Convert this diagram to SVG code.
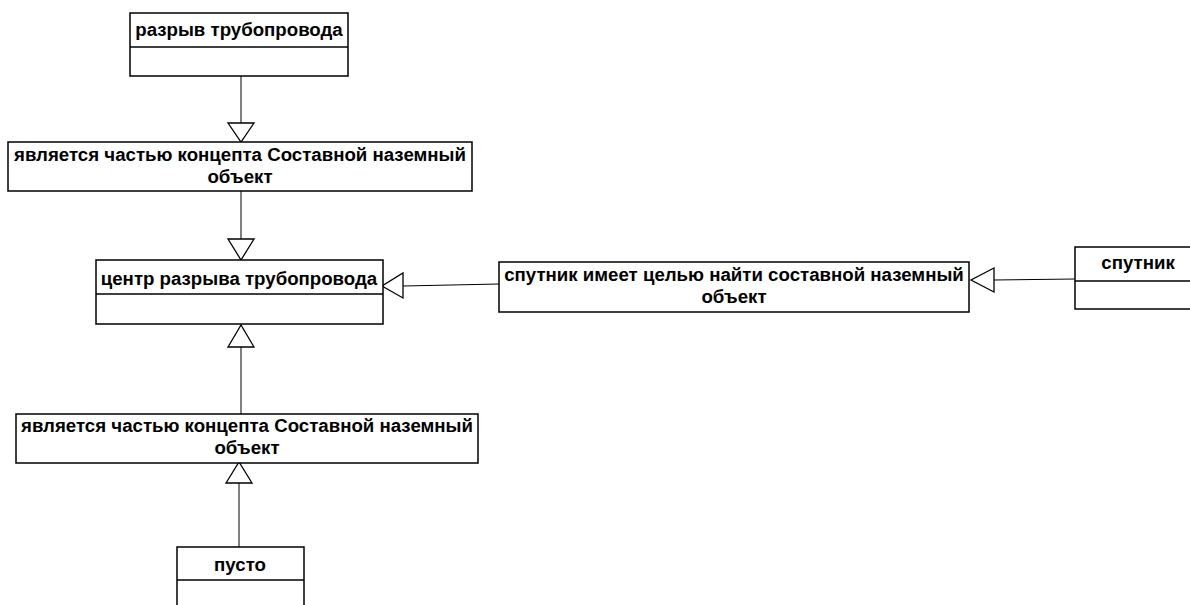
<svg xmlns="http://www.w3.org/2000/svg" width="1190" height="605" viewBox="0 0 1190 605">
<style>
.box{fill:#fff;stroke:#000;stroke-width:1.5}
.div{stroke:#000;stroke-width:1.5}
.t{font-family:"Liberation Sans",Arial,sans-serif;font-weight:bold;font-size:18.67px;fill:#000;text-anchor:middle}
.c{stroke:#000;stroke-width:1;fill:none}
.tri{fill:#fff;stroke:#000;stroke-width:1.3}
</style>
<rect width="1190" height="605" fill="#fff"/>
<g id="connectors">
<line class="c" x1="241" y1="76" x2="241" y2="123"/>
<polygon class="tri" points="228,123 254,123 241,142"/>
<line class="c" x1="241" y1="191" x2="241" y2="239"/>
<polygon class="tri" points="228,239 254,239 241,260"/>
<line class="c" x1="241" y1="347" x2="241" y2="414"/>
<polygon class="tri" points="228,347 254,347 241,325"/>
<line class="c" x1="239" y1="483" x2="239" y2="547"/>
<polygon class="tri" points="226,483 252,483 239,462"/>
<line class="c" x1="403" y1="286" x2="499" y2="284"/>
<polygon class="tri" points="403,273 403,298 382,286"/>
<line class="c" x1="994" y1="280" x2="1075" y2="279"/>
<polygon class="tri" points="994,268 994,292 971,280"/>
</g>
<g id="n1">
<rect class="box" x="130" y="13" width="218" height="63"/>
<line class="div" x1="130" y1="47" x2="348" y2="47"/>
<text class="t" x="239" y="36">разрыв трубопровода</text>
</g>
<g id="n2">
<rect class="box" x="8" y="142" width="464" height="49"/>
<text class="t" x="240" y="161">является частью концепта Составной наземный</text>
<text class="t" x="240" y="183">объект</text>
</g>
<g id="n3">
<rect class="box" x="96" y="260" width="287" height="64"/>
<line class="div" x1="96" y1="294" x2="383" y2="294"/>
<text class="t" x="239" y="285">центр разрыва трубопровода</text>
</g>
<g id="n4">
<rect class="box" x="499" y="262" width="470" height="50"/>
<text class="t" x="734" y="281">спутник имеет целью найти составной наземный</text>
<text class="t" x="734" y="303">объект</text>
</g>
<g id="n5">
<rect class="box" x="1075" y="247" width="130" height="62"/>
<line class="div" x1="1075" y1="281" x2="1205" y2="281"/>
<text class="t" x="1138" y="269">спутник</text>
</g>
<g id="n6">
<rect class="box" x="16" y="414" width="462" height="49"/>
<text class="t" x="247" y="432">является частью концепта Составной наземный</text>
<text class="t" x="247" y="454">объект</text>
</g>
<g id="n7">
<rect class="box" x="177" y="547" width="127" height="70"/>
<line class="div" x1="177" y1="580" x2="304" y2="580"/>
<text class="t" x="240" y="571">пусто</text>
</g>
</svg>
